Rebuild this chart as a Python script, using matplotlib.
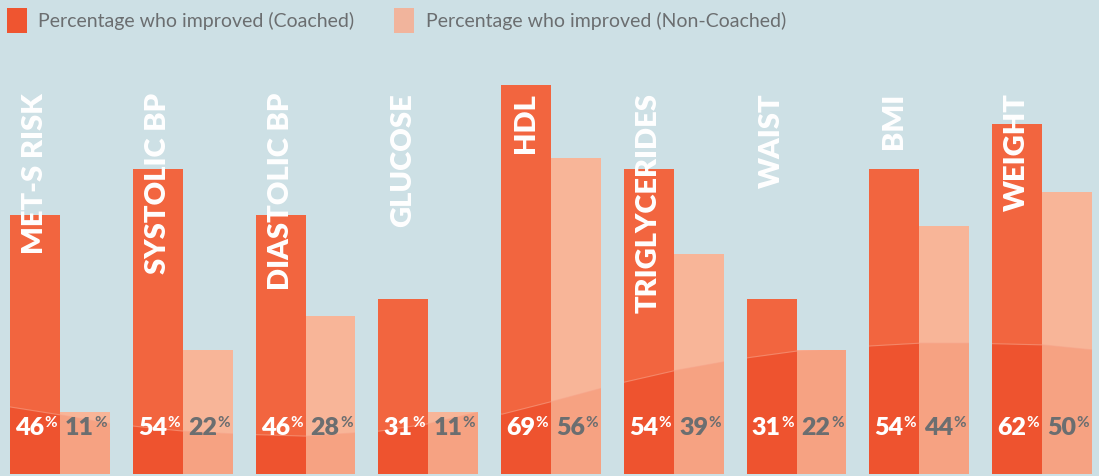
import matplotlib
matplotlib.use("Agg")
import matplotlib.pyplot as plt
from matplotlib.patches import Rectangle
import numpy as np

categories = ["MET-S RISK", "SYSTOLIC BP", "DIASTOLIC BP", "GLUCOSE", "HDL",
              "TRIGLYCERIDES", "WAIST", "BMI", "WEIGHT"]
coached = [46, 54, 46, 31, 69, 54, 31, 54, 62]
non_coached = [11, 22, 28, 11, 56, 39, 22, 44, 50]
legend_labels = ["Percentage who improved (Coached)",
                 "Percentage who improved (Non-Coached)"]

# decorative darker band at the foot of the bars (x in group units, y in %)
wave_x = [-0.41, 0.0, 0.41, 1.0, 1.41, 2.0, 2.41, 2.6, 3.0, 3.41, 3.6, 4.0, 4.41,
          4.6, 5.0, 5.41, 5.6, 6.0, 6.41, 6.6, 7.0, 7.41, 8.0, 8.41]
wave_y = [11.9, 10.5, 8.9, 7.6, 7.1, 6.7, 7.3, 7.6, 8.9, 11.0, 10.6, 12.8, 15.2,
          16.3, 18.3, 19.9, 20.6, 21.8, 22.2, 22.7, 23.2, 23.2, 22.9, 22.0]

BG = "#cde0e5"
C_TOP, C_DARK = "#f2653f", "#ee532f"
N_TOP, N_DARK = "#f8b598", "#f6a282"
GRAY = "#6b6e70"
W = 0.407

fig = plt.figure(figsize=(10.99, 4.77), dpi=100, facecolor=BG)
ax = fig.add_axes([0, 0, 1, 1])
ax.set_facecolor(BG)
ax.set_xlim(-0.489, 8.464)
ax.set_ylim(-0.35, 84.2)
ax.axis("off")

x = np.arange(len(categories))
bars_c = ax.bar(x - W / 2, coached, W, color=C_TOP, linewidth=0)
bars_n = ax.bar(x + W / 2, non_coached, W, color=N_TOP, linewidth=0)

xs = np.linspace(-0.5, 8.5, 600)
wave = np.interp(xs, wave_x, wave_y)
for bars, dark in [(bars_c, C_DARK), (bars_n, N_DARK)]:
    for b in bars:
        poly = ax.fill_between(xs, 0, wave, color=dark, linewidth=0)
        poly.set_clip_path(b)
        ln, = ax.plot(xs, wave, color="#f7a48a", lw=0.8, alpha=0.6)
        ln.set_clip_path(b)

label_y = 8.3
off = 0.075
for i in x:
    ax.text(i - W / 2, 67.7, categories[i], rotation=90, ha="center", va="top",
            color="white", fontsize=21, fontweight="heavy", family="Lato")
    for xc, v, col in [(i - W / 2, coached[i], "white"), (i + W / 2, non_coached[i], GRAY)]:
        ax.text(xc + off, label_y, str(v), ha="right", va="center", color=col,
                fontsize=18, fontweight="heavy", family="Lato")
        ax.text(xc + off + 0.002, label_y + 0.9, "%", ha="left", va="center",
                color=col, fontsize=11, fontweight="bold", family="Lato")

# legend
fw, fh = 1099, 477
for sq_x, txt_x, col, lab in [(7, 38, "#ef5530", legend_labels[0]),
                              (394, 426, "#f1b49c", legend_labels[1])]:
    fig.add_artist(Rectangle((sq_x / fw, 1 - 34 / fh), 20 / fw, 25 / fh,
                             transform=fig.transFigure, color=col, lw=0))
    fig.text(txt_x / fw, 1 - 21 / fh, lab, ha="left", va="center", color=GRAY,
             fontsize=14, fontweight="normal", family="Lato")

fig.savefig("out.png", dpi=100, facecolor=BG)
